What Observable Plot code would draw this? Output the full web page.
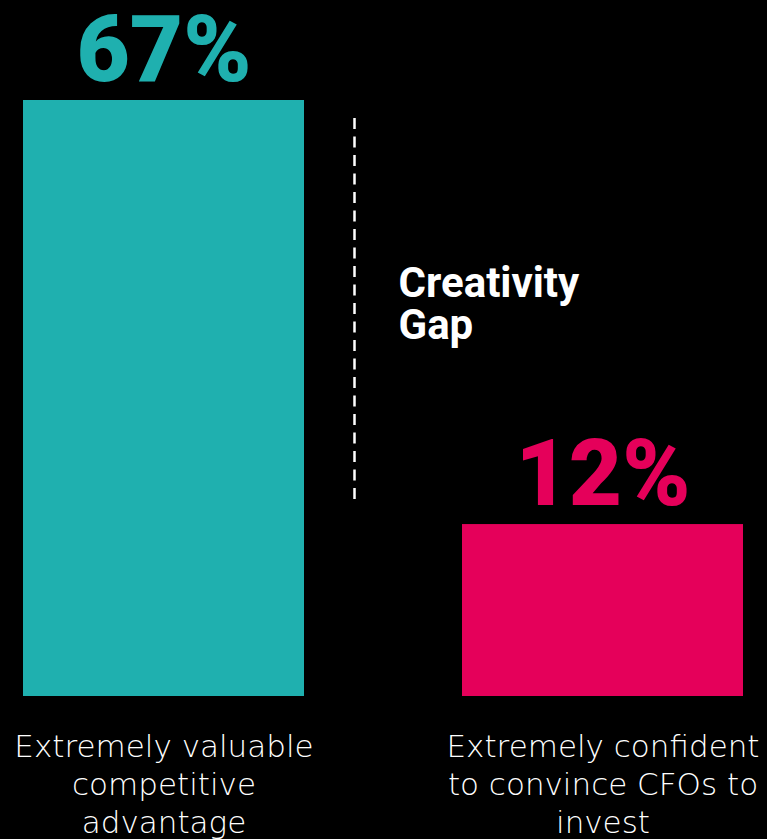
<!DOCTYPE html>
<html><head><meta charset="utf-8">
<script src="https://cdn.jsdelivr.net/npm/d3@7"></script>
<script src="https://cdn.jsdelivr.net/npm/@observablehq/plot@0.6"></script>
<style>html,body{margin:0;padding:0;background:#000;} svg{display:block}</style>
</head><body><div id="chart"></div>
<script>
const categories = ["Extremely valuable\ncompetitive\nadvantage", "Extremely confident\nto convince CFOs to\ninvest"];
const values = [67, 12];
const valueLabels = ["67%", "12%"];
const colors = ["#1fb0af", "#e5005a"];
const gapLabel = "Creativity\nGap";

const data = categories.map((c, i) => ({category: c, value: values[i], label: valueLabels[i], color: colors[i]}));
const yBase = -10.3;

const chart = Plot.plot({
  width: 767, height: 839,
  marginTop: 100, marginBottom: 143, marginLeft: 23, marginRight: 24,
  style: {background: "#000", color: "#fff"},
  x: {domain: categories, paddingInner: 0.36, paddingOuter: 0, axis: null},
  y: {domain: [yBase, 67], axis: null},
  color: {type: "identity"},
  marks: [
    Plot.rectY(data, {x: "category", y1: yBase, y2: "value", fill: "color"}),
    Plot.text(data, {x: "category", y: "value", text: "label", fill: "color", lineAnchor: "bottom", dy: -20,
      fontSize: 92, fontWeight: 900, fontFamily: "Roboto"}),
    Plot.ruleX([data[0]], {x: "category", y1: values[0], y2: values[1], dx: 190.5, insetTop: 18, insetBottom: 21,
      stroke: "#fff", strokeWidth: 2.5, strokeDasharray: "11,7.5"}),
    Plot.text([gapLabel], {x: () => categories[0], y: () => (values[0] + values[1]) / 2, text: d => d, dx: 234.5, dy: -45,
      textAnchor: "start", lineAnchor: "top", fontSize: 42, fontWeight: 700, fontFamily: "Roboto", fill: "#fff", lineHeight: 1.0}),
    Plot.text(data, {x: "category", y: yBase, text: "category", lineAnchor: "top", dy: 34,
      fontSize: 31, fontWeight: 200, fontFamily: "DejaVu Sans", fill: "#fff", lineHeight: 1.226})
  ]
});
document.getElementById("chart").appendChild(chart);
</script>
</body></html>
